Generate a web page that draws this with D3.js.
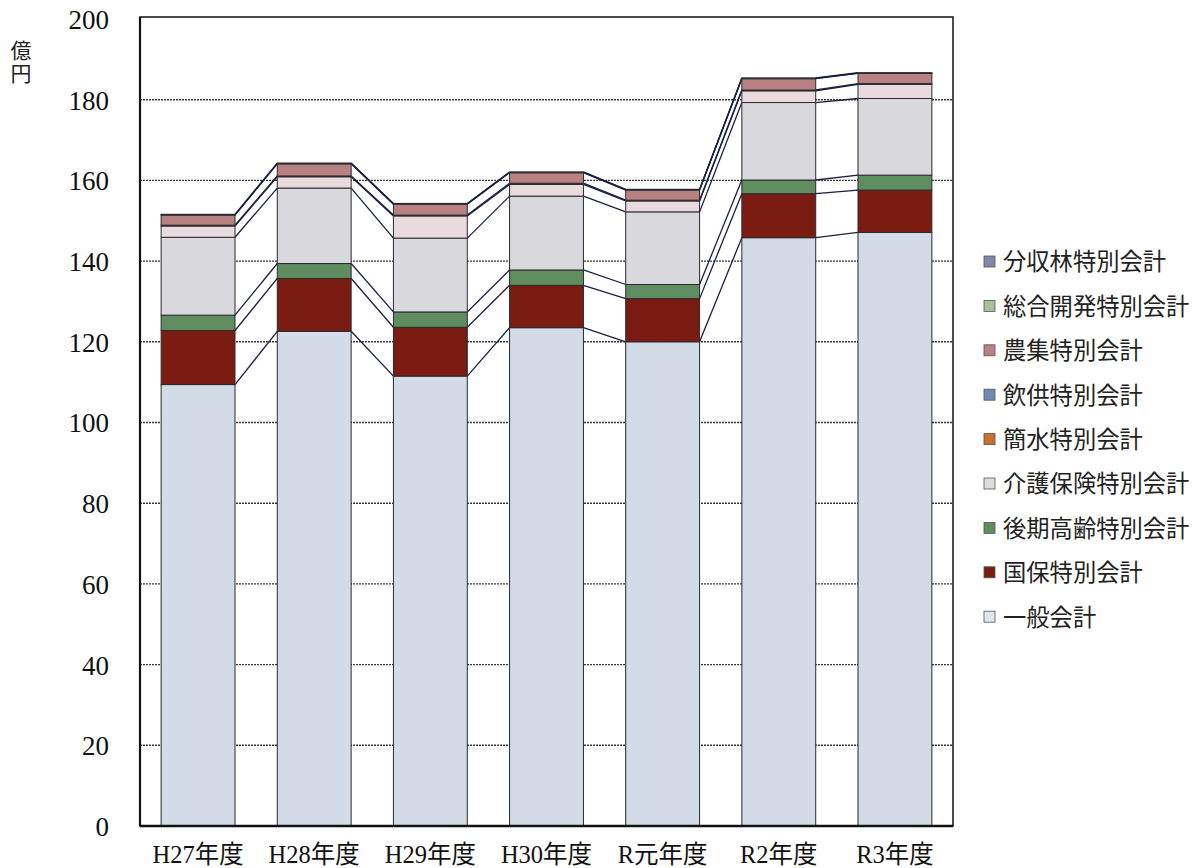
<!DOCTYPE html>
<html><head><meta charset="utf-8">
<script src="https://cdn.jsdelivr.net/npm/d3@7/dist/d3.min.js"></script>
<style>body{margin:0;background:#fff;} svg{display:block;}</style>
</head><body>
<svg id="c" width="1203" height="868"></svg>
<script>
const categories = ["H27年度","H28年度","H29年度","H30年度","R元年度","R2年度","R3年度"];
const seriesNames = ["一般会計","国保特別会計","後期高齢特別会計","介護保険特別会計","簡水特別会計","飲供特別会計","農集特別会計","総合開発特別会計","分収林特別会計"];
const ippan   = [109.4,122.6,111.5,123.5,120.0,145.8,147.1];
const kokuho  = [13.4,13.1,12.1,10.5,10.7,10.9,10.5];
const kouki   = [3.8,3.7,3.8,3.8,3.5,3.4,3.7];
const kaigo   = [19.3,18.7,18.3,18.3,18.0,19.2,19.0];
const kansui  = [2.8,2.8,5.5,2.9,2.7,2.9,3.5];
const inkyo   = [0.2,0.2,0.2,0.3,0.2,0.2,0.2];
const noushu  = [2.5,3.0,2.7,2.6,2.5,2.8,2.5];
const sougou  = [0.1,0.1,0.1,0.1,0.1,0.1,0.1];
const bunshu  = [0.1,0.1,0.1,0.1,0.1,0.1,0.1];
const yTicks = [0,20,40,60,80,100,120,140,160,180,200];
const barColors = ["#d3dce6","#7a1c12","#5f8d5f","#d9d8dc","#e8dadd","#6f88b8","#b98282","#a8c098","#8088a8"];
const legendColors = ["#dfe8ee","#7a1c12","#5f8d5f","#dcdcdc","#c8702e","#6f88b8","#b98282","#a8c098","#8088a8"];

const seriesValues = [ippan,kokuho,kouki,kaigo,kansui,inkyo,noushu,sougou,bunshu];
const rows = categories.map((c,i)=>{const o={cat:c}; seriesNames.forEach((s,k)=>o[s]=seriesValues[k][i]); return o;});
const stack = d3.stack().keys(seriesNames)(rows);

const svg = d3.select("#c");
const L=140,R=953,T=19,B=826;
const x = d3.scaleBand().domain(categories).range([L,R]).paddingInner(0.364).paddingOuter(0.182);
const y = d3.scaleLinear().domain([0,200]).range([B,T]);

// gridlines
svg.append("g").selectAll("line").data(yTicks.filter(t=>t>0&&t<200)).join("line")
  .attr("x1",L).attr("x2",R).attr("y1",d=>y(d)).attr("y2",d=>y(d))
  .attr("stroke","#3a3a3a").attr("stroke-width",1.4).attr("stroke-dasharray","2,1");

// series lines
const lineG = svg.append("g");
stack.forEach(layer=>{
  for(let i=0;i<categories.length-1;i++){
    lineG.append("line")
      .attr("x1",x(categories[i])+x.bandwidth()).attr("y1",y(layer[i][1]))
      .attr("x2",x(categories[i+1])).attr("y2",y(layer[i+1][1]))
      .attr("stroke","#1a2044").attr("stroke-width",1.3);
  }
});

// bars
svg.append("g").selectAll("g").data(stack).join("g")
  .attr("fill",(d,i)=>barColors[i])
  .selectAll("rect").data(d=>d).join("rect")
  .attr("x",(d,i)=>x(categories[i])).attr("width",x.bandwidth())
  .attr("y",d=>y(d[1])).attr("height",d=>y(d[0])-y(d[1]))
  .attr("stroke","#2a2a30").attr("stroke-width",1);

// frame
svg.append("rect").attr("x",L).attr("y",y(200)-2).attr("width",R-L).attr("height",B-y(200)+2)
  .attr("fill","none").attr("stroke","#111").attr("stroke-width",1.5);
svg.append("line").attr("x1",L).attr("x2",R).attr("y1",B).attr("y2",B).attr("stroke","#111").attr("stroke-width",2.5);
svg.append("line").attr("x1",L).attr("x2",L).attr("y1",y(200)-2).attr("y2",B).attr("stroke","#111").attr("stroke-width",2.2);

// y axis labels
const yAxis = d3.axisLeft(y).tickValues(yTicks).tickSize(0).tickPadding(0);
const ya = svg.append("g").attr("transform",`translate(${L-31},0)`).call(yAxis);
ya.select(".domain").remove();
ya.selectAll("text").attr("font-family","'Liberation Serif',serif").attr("font-size",27).attr("fill","#111").attr("dy","0.35em");

svg.append("text").attr("x",21).attr("y",40)
  .style("writing-mode","vertical-rl").style("text-orientation","upright")
  .attr("letter-spacing",2)
  .attr("font-family","'Noto Sans CJK JP'").attr("font-size",21).attr("fill","#222").text("億円");

// x axis labels
const xAxis = d3.axisBottom(x).tickSize(0).tickPadding(0);
const xa = svg.append("g").attr("transform",`translate(0,${B+37})`).call(xAxis);
xa.select(".domain").remove();
xa.selectAll("text").attr("font-family","'Liberation Serif','Noto Sans CJK JP',serif").attr("font-size",24.5).attr("fill","#111").attr("dy","0");

// legend
const legOrder = seriesNames.map((s,i)=>i).reverse();
const lg = svg.append("g");
legOrder.forEach((k,j)=>{
  const cy = 262 + j*44.4;
  lg.append("rect").attr("x",984).attr("y",cy-6).attr("width",11).attr("height",11)
    .attr("fill",legendColors[k]).attr("stroke","#555").attr("stroke-width",0.8);
  lg.append("text").attr("x",1003).attr("y",cy).attr("dy","0.36em")
    .attr("font-family","'Noto Sans CJK JP'").attr("font-size",23.3).attr("fill","#222").text(seriesNames[k]);
});
</script>
</body></html>
